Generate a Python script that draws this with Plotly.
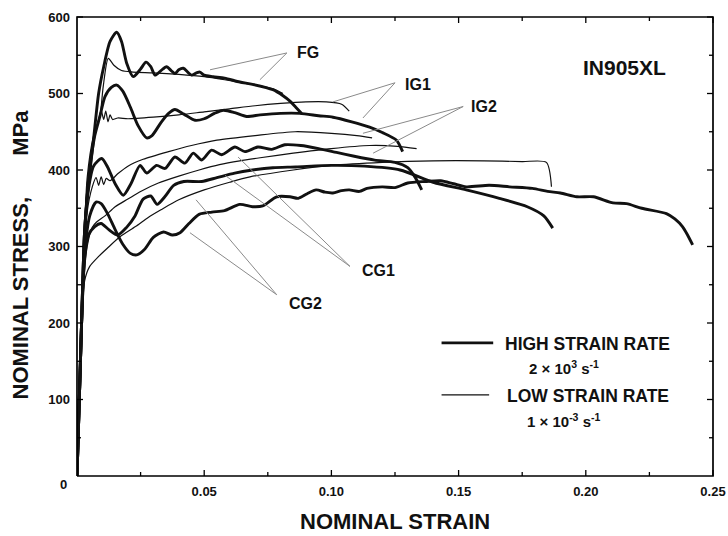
import plotly.graph_objects as go

# ---------------- data (strain, nominal stress MPa) ----------------
FG_HIGH_X = [0, 0.0018, 0.003, 0.0045, 0.0065, 0.0085, 0.0105, 0.013, 0.0156, 0.0175, 0.0195, 0.0221, 0.025, 0.0271,
             0.029, 0.0307, 0.033, 0.0352, 0.037, 0.0385, 0.040, 0.0418, 0.0435, 0.045, 0.047, 0.0483, 0.050, 0.0535,
             0.058, 0.064, 0.069, 0.077, 0.081, 0.0837, 0.086, 0.0883]
FG_HIGH_Y = [0, 200, 320, 380, 440, 500, 535, 568, 580, 568, 540, 522, 532, 541,
             535, 524, 530, 535, 530, 526, 531, 533, 528, 524, 527, 528, 524, 522,
             520, 515, 512, 505, 497, 490, 482, 474]

FG_LOW_X = [0, 0.002, 0.004, 0.0065, 0.009, 0.0103, 0.0123, 0.0145, 0.0175, 0.022, 0.03, 0.04, 0.05, 0.058, 0.065,
            0.072, 0.077, 0.081]
FG_LOW_Y = [0, 230, 390, 445, 470, 509, 546, 537, 530, 528, 527, 525, 522, 518, 514,
            510, 506, 500]

IG1_HIGH_X = [0, 0.0018, 0.003, 0.005, 0.007, 0.009, 0.011, 0.0135, 0.0156, 0.018, 0.021, 0.024, 0.0274, 0.0295,
              0.033, 0.036, 0.0385, 0.042, 0.0464, 0.050, 0.054, 0.0575, 0.062, 0.0667, 0.072, 0.08, 0.0876, 0.095,
              0.1006, 0.108, 0.115, 0.12, 0.1256, 0.128]
IG1_HIGH_Y = [0, 200, 320, 400, 445, 470, 496, 508, 511, 503, 482, 458, 442, 445,
              462, 474, 479, 473, 465, 467, 474, 478, 475, 470, 472, 474, 474, 471,
              469, 463, 456, 449, 439, 424]

IG1_LOW_X = [0, 0.002, 0.004, 0.0065, 0.0085, 0.0095, 0.0105, 0.0113, 0.0122, 0.013, 0.014, 0.016, 0.02, 0.03, 0.04,
             0.05, 0.06, 0.07, 0.08, 0.09, 0.098, 0.104, 0.107]
IG1_LOW_Y = [0, 230, 380, 440, 466, 478, 466, 477, 463, 472, 466, 468, 467, 469, 472,
             476, 480, 484, 487, 489, 489, 486, 477]

IG2_HIGH_X = [0, 0.0018, 0.003, 0.0045, 0.0065, 0.0097, 0.012, 0.015, 0.0182, 0.0212, 0.0248, 0.0274, 0.0313, 0.0346,
              0.0385, 0.0424, 0.0457, 0.049, 0.0529, 0.0569, 0.0621, 0.066, 0.0711, 0.0765, 0.0817, 0.088, 0.095,
              0.102, 0.109, 0.117, 0.125, 0.13, 0.133, 0.1355]
IG2_HIGH_Y = [0, 200, 320, 375, 405, 415, 404, 382, 367, 382, 406, 396, 406, 402,
              417, 409, 422, 413, 426, 420, 430, 424, 430, 427, 433, 432, 428,
              423, 418, 413, 410, 403, 390, 374]

IG2_LOW_X = [0, 0.002, 0.004, 0.006, 0.0075, 0.0085, 0.0095, 0.0105, 0.0115, 0.013, 0.016, 0.02, 0.026, 0.036, 0.045,
             0.055, 0.07, 0.0857, 0.1, 0.11, 0.116]
IG2_LOW_Y = [0, 220, 345, 378, 390, 380, 391, 381, 389, 386, 395, 405, 414, 424, 432,
             439, 445, 450, 448, 445, 442]

CG1_HIGH_X = [0, 0.0018, 0.003, 0.0045, 0.007, 0.0095, 0.0125, 0.016, 0.0195, 0.0228, 0.026, 0.029, 0.0315, 0.0345,
              0.038, 0.042, 0.049, 0.055, 0.062, 0.069, 0.077, 0.086, 0.1, 0.113, 0.127, 0.14, 0.153, 0.166, 0.177,
              0.1835, 0.187]
CG1_HIGH_Y = [0, 200, 285, 315, 326, 330, 322, 315, 325, 340, 362, 366, 355, 365,
              380, 385, 385, 390, 396, 400, 403, 404, 406, 405, 400, 384, 374, 363, 352,
              340, 324]

CG1_LOW_X = [0, 0.002, 0.004, 0.006, 0.0077, 0.011, 0.015, 0.02, 0.025, 0.032, 0.04, 0.048, 0.056, 0.064, 0.072,
             0.085, 0.1, 0.115, 0.126, 0.1335]
CG1_LOW_Y = [0, 220, 300, 325, 332, 340, 352, 362, 372, 383, 392, 400, 407, 412, 416,
             422, 428, 432, 431, 428]

CG2_HIGH_X = [0, 0.0018, 0.003, 0.005, 0.0075, 0.0095, 0.012, 0.015, 0.018, 0.021, 0.0235, 0.0265, 0.03, 0.034,
              0.0375, 0.0405, 0.044, 0.048, 0.053, 0.058, 0.064, 0.069, 0.073, 0.0785, 0.0837, 0.087, 0.0905, 0.094,
              0.0975, 0.1006, 0.104, 0.107, 0.111, 0.114, 0.12, 0.125, 0.13, 0.137, 0.143, 0.148, 0.153, 0.162,
              0.17, 0.179, 0.185, 0.19, 0.1965, 0.203, 0.2107, 0.216, 0.222, 0.2317, 0.235, 0.238, 0.240, 0.242]
CG2_HIGH_Y = [0, 200, 290, 340, 358, 356, 343, 322, 303, 291, 289, 296, 312, 319,
              315, 318, 330, 342, 345, 347, 355, 352, 353, 365, 365, 363, 369, 374,
              371, 370, 373, 374, 372, 376, 378, 377, 383, 385, 386, 382, 378, 380,
              378, 376, 372, 370, 365, 365, 357, 356, 350, 343, 336, 326, 315, 302]

CG2_LOW_X = [0, 0.0015, 0.003, 0.005, 0.0085, 0.012, 0.017, 0.023, 0.028, 0.033, 0.04, 0.05, 0.06, 0.068, 0.085,
             0.1, 0.12, 0.14, 0.16, 0.175, 0.1845, 0.1865]
CG2_LOW_Y = [0, 170, 255, 274, 287, 298, 313, 326, 338, 348, 361, 374, 384, 391, 400,
             406, 410, 412, 412, 411, 410, 378]

SERIES = [
    ("FG", FG_HIGH_X, FG_HIGH_Y, FG_LOW_X, FG_LOW_Y),
    ("IG1", IG1_HIGH_X, IG1_HIGH_Y, IG1_LOW_X, IG1_LOW_Y),
    ("IG2", IG2_HIGH_X, IG2_HIGH_Y, IG2_LOW_X, IG2_LOW_Y),
    ("CG1", CG1_HIGH_X, CG1_HIGH_Y, CG1_LOW_X, CG1_LOW_Y),
    ("CG2", CG2_HIGH_X, CG2_HIGH_Y, CG2_LOW_X, CG2_LOW_Y),
]

# label text, label position, leader start, leader ends (data coords)
LABELS = [
    ("FG", (0.0908, 554), (0.0825, 553), [(0.0523, 531), (0.0719, 518)]),
    ("IG1", (0.1342, 512), (0.1250, 514), [(0.1006, 489), (0.1124, 468)]),
    ("IG2", (0.1598, 483), (0.1518, 483), [(0.1124, 448), (0.1164, 422)]),
    ("CG1", (0.1187, 269), (0.1073, 274), [(0.0633, 417), (0.0582, 393)]),
    ("CG2", (0.0899, 226), (0.0785, 237), [(0.0468, 361), (0.0444, 318)]),
]

X_RANGE = [0, 0.25]
Y_RANGE = [0, 600]
X_TICKS = [0.05, 0.10, 0.15, 0.20, 0.25]
X_TICKTEXT = ["0.05", "0.10", "0.15", "0.20", "0.25"]
X_MINOR = [0.025, 0.075, 0.125, 0.175, 0.225]
Y_TICKS = [100, 200, 300, 400, 500, 600]
Y_TICKTEXT = ["100", "200", "300", "400", "500", "600"]
Y_MINOR = [50, 150, 250, 350, 450, 550]

FONT = "Liberation Sans, Arial, Helvetica, sans-serif"
INK = "#111111"
LEADER = "#8a8a8a"

# page geometry: plot area in pixels, plus a padding band for the frame subplot
W, H = 728, 536
PL, PR, PT, PB = 77, 713, 17, 476
PAD = 10
PX_X = (X_RANGE[1] - X_RANGE[0]) / (PR - PL)
PX_Y = (Y_RANGE[1] - Y_RANGE[0]) / (PB - PT)
ML, MR, MT, MB = PL - PAD, W - PR - PAD, PT - PAD, H - PB - PAD
AW, AH = W - ML - MR, H - MT - MB
DOM_X = [PAD / AW, (AW - PAD) / AW]
DOM_Y = [PAD / AH, (AH - PAD) / AH]


def bold(size):
    return dict(family=FONT, size=size, color=INK, weight="bold")


fig = go.Figure()

for name, hx, hy, lx, ly in SERIES:
    fig.add_trace(go.Scatter(x=lx, y=ly, mode="lines", name=name + " low",
                             line=dict(color=INK, width=1.2, shape="spline", smoothing=0.7),
                             showlegend=False, hoverinfo="skip"))
    fig.add_trace(go.Scatter(x=hx, y=hy, mode="lines", name=name + " high",
                             line=dict(color=INK, width=2.9, shape="spline", smoothing=0.7),
                             showlegend=False, hoverinfo="skip"))

# leader lines
for text, (tx, ty), (sx, sy), ends in LABELS:
    for ex, ey in ends:
        fig.add_trace(go.Scatter(x=[sx, ex], y=[sy, ey], mode="lines",
                                 line=dict(color=LEADER, width=1), showlegend=False, hoverinfo="skip"))
    fig.add_annotation(x=tx, y=ty, text=text, showarrow=False, font=bold(16),
                       xanchor="center", yanchor="middle")

# frame and inward ticks on all four sides, on a padded overlay subplot so nothing is clipped
x0, x1 = X_RANGE
y0, y1 = Y_RANGE
fig.add_trace(go.Scatter(x=[x0, x1, x1, x0, x0], y=[y0, y0, y1, y1, y0], mode="lines",
                         xaxis="x2", yaxis="y2",
                         line=dict(color="black", width=1.7), showlegend=False, hoverinfo="skip"))
tx_, ty_ = [], []
for xv, ln in [(v, 6) for v in X_TICKS] + [(v, 4) for v in X_MINOR]:
    tx_ += [xv, xv, None, xv, xv, None]
    ty_ += [y0, y0 + ln * PX_Y, None, y1, y1 - ln * PX_Y, None]
for yv, ln in [(v, 6) for v in Y_TICKS] + [(v, 4) for v in Y_MINOR]:
    tx_ += [x0, x0 + ln * PX_X, None, x1, x1 - ln * PX_X, None]
    ty_ += [yv, yv, None, yv, yv, None]
fig.add_trace(go.Scatter(x=tx_, y=ty_, mode="lines", xaxis="x2", yaxis="y2",
                         line=dict(color="black", width=1.3),
                         showlegend=False, hoverinfo="skip", connectgaps=False))

# legend drawn inside the plot
LEG_HIGH = ([0.1433, 0.1636], [174, 174])
LEG_LOW = ([0.1433, 0.1620], [106, 106])
fig.add_trace(go.Scatter(x=LEG_HIGH[0], y=LEG_HIGH[1], mode="lines",
                         line=dict(color=INK, width=2.9), showlegend=False, hoverinfo="skip"))
fig.add_trace(go.Scatter(x=LEG_LOW[0], y=LEG_LOW[1], mode="lines",
                         line=dict(color=INK, width=1.2), showlegend=False, hoverinfo="skip"))
fig.add_annotation(x=0.2007, y=173, text="HIGH STRAIN RATE", showarrow=False, font=bold(17.5),
                   xanchor="center", yanchor="middle")
fig.add_annotation(x=0.1914, y=142, text="2 × 10<sup>3</sup> s<sup>-1</sup>", showarrow=False,
                   font=bold(15), xanchor="center", yanchor="middle")
fig.add_annotation(x=0.2007, y=104, text="LOW STRAIN RATE", showarrow=False, font=bold(17.5),
                   xanchor="center", yanchor="middle")
fig.add_annotation(x=0.1914, y=72, text="1 × 10<sup>-3</sup> s<sup>-1</sup>", showarrow=False,
                   font=bold(15), xanchor="center", yanchor="middle")

fig.add_annotation(x=0.2154, y=534, text="IN905XL", showarrow=False, font=bold(21),
                   xanchor="center", yanchor="middle")

# axis titles and origin label (relative to the main plot area)
fig.add_annotation(xref="x domain", yref="y domain", x=0.5, y=-0.100, text="NOMINAL STRAIN",
                   showarrow=False, font=bold(22), xanchor="center", yanchor="middle")
fig.add_annotation(xref="x domain", yref="y domain", x=-0.0887, y=0.388, text="NOMINAL STRESS,",
                   showarrow=False, textangle=-90, font=bold(22), xanchor="center", yanchor="middle")
fig.add_annotation(xref="x domain", yref="y domain", x=-0.0887, y=0.747, text="MPa",
                   showarrow=False, textangle=-90, font=bold(22), xanchor="center", yanchor="middle")
fig.add_annotation(xref="x domain", yref="y domain", x=-0.0217, y=-0.0196, text="0",
                   showarrow=False, font=bold(13), xanchor="center", yanchor="middle")

fig.update_layout(
    width=W, height=H,
    margin=dict(l=ML, r=MR, t=MT, b=MB, autoexpand=False),
    paper_bgcolor="white", plot_bgcolor="rgba(0,0,0,0)", showlegend=False,
    font=dict(family=FONT, color=INK),
    xaxis=dict(domain=DOM_X, range=X_RANGE, tickmode="array", tickvals=X_TICKS, ticktext=X_TICKTEXT,
               automargin=False, ticks="", showline=False, showgrid=False, zeroline=False,
               tickfont=bold(13), ticklabelstandoff=6),
    yaxis=dict(domain=DOM_Y, range=Y_RANGE, tickmode="array", tickvals=Y_TICKS, ticktext=Y_TICKTEXT,
               automargin=False, ticks="", showline=False, showgrid=False, zeroline=False,
               tickfont=bold(13), ticklabelstandoff=6),
    xaxis2=dict(domain=[0, 1], range=[x0 - PAD * PX_X, x1 + PAD * PX_X], anchor="y2",
                visible=False, showgrid=False, zeroline=False),
    yaxis2=dict(domain=[0, 1], range=[y0 - PAD * PX_Y, y1 + PAD * PX_Y], anchor="x2",
                visible=False, showgrid=False, zeroline=False),
)

fig.write_html("out.html", config={"displayModeBar": False},
               post_script="document.body.style.margin='0';document.body.style.overflow='hidden';")
